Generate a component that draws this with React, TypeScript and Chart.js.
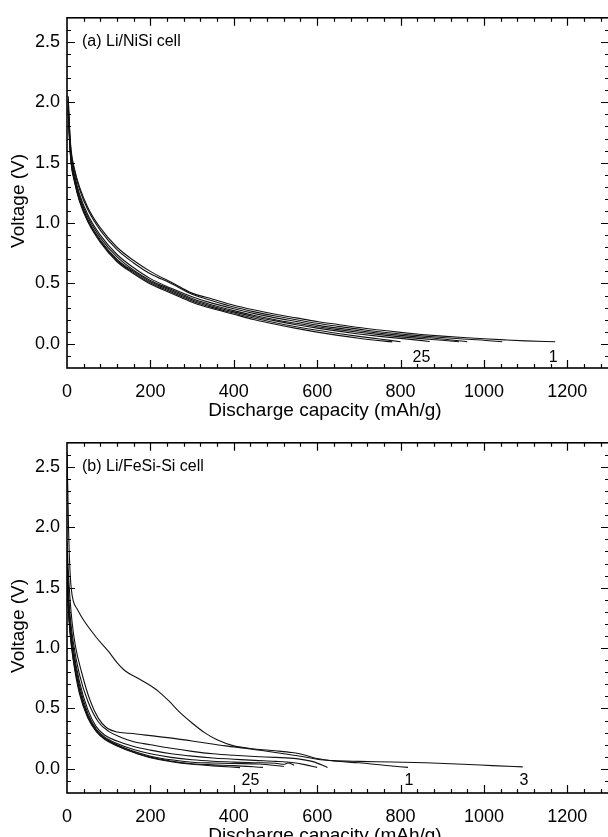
import React, { useEffect, useRef } from "react";
import { Chart, registerables } from "chart.js";

Chart.register(...registerables);

const FONT = "'Liberation Sans', Arial, Helvetica, sans-serif";

// Axis configuration
const X_TICKS = [0, 200, 400, 600, 800, 1000, 1200];
const Y_TICKS = [0.0, 0.5, 1.0, 1.5, 2.0, 2.5];
const X_MIN = 0;
const X_MAX = 1300;
const Y_MIN = -0.2;
const Y_MAX = 2.7;
const X_MINOR = 40;
const Y_MINOR = 0.1;
const X_TITLE = "Discharge capacity (mAh/g)";
const Y_TITLE = "Voltage (V)";

// Panel (a): Li/NiSi cell, [capacity mAh/g, voltage V]
const A_LABEL = "(a) Li/NiSi cell";
const NISI_C1 = [[3,2.05],[6,1.8],[10,1.6],[18,1.45],[30,1.3],[50,1.13],[80,0.96],[120,0.8],[160,0.69],[200,0.6],[250,0.51],[300,0.42],[350,0.37],[400,0.32],[450,0.28],[500,0.245],[550,0.215],[600,0.185],[650,0.16],[700,0.135],[750,0.115],[800,0.095],[850,0.078],[900,0.064],[950,0.052],[1000,0.042],[1050,0.033],[1100,0.025],[1171,0.017]];
const NISI_C2 = [[3,2.02],[6,1.78],[10,1.58],[18,1.43],[30,1.28],[50,1.11],[80,0.94],[120,0.78],[160,0.67],[200,0.58],[250,0.5],[300,0.41],[350,0.355],[400,0.305],[450,0.265],[500,0.23],[550,0.2],[600,0.17],[650,0.145],[700,0.122],[750,0.1],[800,0.082],[850,0.066],[900,0.052],[950,0.04],[1000,0.03],[1044,0.018]];
const NISI_C5 = [[3,1.98],[6,1.74],[10,1.55],[18,1.4],[30,1.24],[50,1.07],[80,0.9],[120,0.74],[160,0.63],[200,0.54],[250,0.46],[300,0.39],[350,0.335],[400,0.29],[450,0.25],[500,0.215],[550,0.185],[600,0.155],[650,0.13],[700,0.108],[750,0.088],[800,0.07],[850,0.055],[900,0.04],[960,0.018]];
const NISI_C10 = [[3,1.97],[6,1.72],[10,1.53],[18,1.38],[30,1.22],[50,1.05],[80,0.88],[120,0.72],[160,0.61],[200,0.525],[250,0.45],[300,0.375],[350,0.32],[400,0.275],[450,0.235],[500,0.2],[550,0.17],[600,0.142],[650,0.118],[700,0.096],[750,0.076],[800,0.058],[850,0.043],[900,0.03],[940,0.018]];
const NISI_C15 = [[3,1.95],[6,1.7],[10,1.51],[18,1.36],[30,1.2],[50,1.03],[80,0.86],[120,0.7],[160,0.6],[200,0.515],[250,0.44],[300,0.365],[350,0.31],[400,0.265],[450,0.225],[500,0.19],[550,0.158],[600,0.13],[650,0.105],[700,0.082],[750,0.062],[800,0.045],[870,0.02]];
const NISI_C20 = [[3,1.94],[6,1.69],[10,1.5],[18,1.35],[30,1.19],[50,1.02],[80,0.85],[120,0.69],[160,0.59],[200,0.505],[250,0.43],[300,0.355],[350,0.3],[400,0.255],[450,0.212],[500,0.175],[550,0.142],[600,0.112],[650,0.086],[700,0.062],[750,0.04],[800,0.018]];
const NISI_C25 = [[3,1.93],[6,1.68],[10,1.49],[18,1.34],[30,1.18],[50,1.01],[80,0.84],[120,0.68],[160,0.58],[200,0.495],[250,0.42],[300,0.345],[350,0.29],[400,0.245],[450,0.2],[500,0.162],[550,0.128],[600,0.097],[650,0.07],[700,0.046],[740,0.03],[780,0.016]];
const A_CYCLE_TEXT = ["25", "1"];
const A_CYCLE_X = [850, 1166];
const A_CYCLE_Y = [-0.115, -0.115];

// Panel (b): Li/FeSi-Si cell
const B_LABEL = "(b) Li/FeSi-Si cell";
const FESI_C1 = [[0,2.62],[2,2.3],[4,1.95],[7,1.65],[10,1.5],[15,1.39],[25,1.32],[40,1.23],[70,1.09],[100,0.97],[120,0.88],[140,0.81],[170,0.75],[195,0.7],[220,0.64],[245,0.56],[270,0.47],[300,0.38],[330,0.3],[360,0.24],[400,0.19],[450,0.165],[500,0.15],[540,0.135],[570,0.115],[600,0.085],[640,0.065],[700,0.05],[760,0.03],[818,0.012]];
const FESI_C3 = [[0,1.88],[3,1.65],[7,1.42],[12,1.22],[20,1.02],[35,0.8],[55,0.57],[75,0.42],[95,0.34],[120,0.305],[150,0.295],[200,0.275],[260,0.25],[320,0.22],[380,0.19],[440,0.165],[500,0.135],[560,0.105],[600,0.08],[640,0.068],[700,0.062],[780,0.057],[860,0.05],[950,0.038],[1020,0.027],[1093,0.016]];
const FESI_C2 = [[0,1.8],[3,1.5],[8,1.25],[15,1.05],[30,0.78],[50,0.56],[75,0.39],[100,0.31],[130,0.26],[160,0.225],[200,0.2],[250,0.17],[300,0.145],[350,0.125],[400,0.112],[450,0.102],[500,0.095],[550,0.085],[590,0.06],[625,0.012]];
const FESI_C5 = [[0,1.78],[3,1.45],[8,1.2],[15,1.0],[30,0.72],[50,0.49],[70,0.35],[90,0.28],[120,0.23],[160,0.185],[200,0.155],[250,0.125],[300,0.105],[350,0.09],[400,0.08],[450,0.07],[500,0.062],[540,0.052],[570,0.035],[600,0.012]];
const FESI_C10 = [[0,1.75],[3,1.4],[8,1.16],[15,0.96],[30,0.69],[50,0.46],[70,0.33],[90,0.265],[120,0.21],[160,0.16],[200,0.125],[250,0.095],[300,0.075],[350,0.063],[400,0.056],[450,0.051],[500,0.046],[520,0.038],[530,0.048],[545,0.03]];
const FESI_C15 = [[0,1.74],[3,1.38],[8,1.13],[15,0.93],[30,0.66],[50,0.44],[70,0.32],[90,0.255],[120,0.2],[160,0.145],[200,0.105],[250,0.075],[300,0.055],[350,0.048],[400,0.044],[460,0.04],[520,0.02]];
const FESI_C20 = [[0,1.73],[3,1.36],[8,1.11],[15,0.91],[30,0.64],[50,0.43],[70,0.315],[90,0.25],[120,0.195],[160,0.14],[200,0.097],[250,0.065],[300,0.042],[350,0.033],[400,0.027],[470,0.012]];
const FESI_C25 = [[0,1.72],[3,1.35],[8,1.1],[15,0.9],[30,0.62],[50,0.42],[70,0.31],[90,0.245],[120,0.19],[160,0.135],[200,0.092],[250,0.06],[300,0.038],[350,0.025],[415,0.01]];
const B_CYCLE_TEXT = ["25", "1", "3"];
const B_CYCLE_X = [440, 820, 1096];
const B_CYCLE_Y = [-0.1, -0.1, -0.1];

const framePlugin = {
  id: "frameTicks",
  afterDatasetsDraw(chart: any, _args: any, opts: any) {
    const { ctx, chartArea } = chart;
    const { left, right, top, bottom } = chartArea;
    const xs = chart.scales.x;
    const ys = chart.scales.y;
    ctx.save();
    ctx.strokeStyle = "#000";
    ctx.lineWidth = 1.6;
    ctx.strokeRect(left, top, right - left, bottom - top);
    ctx.lineWidth = 1.2;
    ctx.beginPath();
    const nx = Math.round((X_MAX - X_MIN) / X_MINOR);
    for (let i = 1; i < nx; i++) {
      const v = X_MIN + i * X_MINOR;
      const px = Math.round(xs.getPixelForValue(v)) + 0.5;
      const len = v % 200 === 0 ? 8 : 4;
      ctx.moveTo(px, bottom);
      ctx.lineTo(px, bottom - len);
      ctx.moveTo(px, top);
      ctx.lineTo(px, top + len);
    }
    const ny = Math.round((Y_MAX - Y_MIN) / Y_MINOR);
    for (let i = 1; i < ny; i++) {
      const v = Math.round((Y_MIN + i * Y_MINOR) * 10) / 10;
      const py = Math.round(ys.getPixelForValue(v)) + 0.5;
      const major = Math.abs(Math.round(v * 2) - v * 2) < 1e-6;
      const len = major ? 8 : 4;
      ctx.moveTo(left, py);
      ctx.lineTo(left + len, py);
      ctx.moveTo(right, py);
      ctx.lineTo(right - len, py);
    }
    ctx.stroke();

    ctx.fillStyle = "#000";
    ctx.font = `16px ${FONT}`;
    ctx.textAlign = "left";
    ctx.textBaseline = "middle";
    ctx.fillText(opts.label, left + 15, ys.getPixelForValue(2.5));
    ctx.textAlign = "center";
    opts.cycleText.forEach((t: string, i: number) => {
      ctx.fillText(t, xs.getPixelForValue(opts.cycleX[i]), ys.getPixelForValue(opts.cycleY[i]));
    });

    // axis titles
    ctx.font = `19px ${FONT}`;
    ctx.textAlign = "center";
    ctx.textBaseline = "middle";
    ctx.fillText(X_TITLE, left + 258, bottom + 43);
    ctx.save();
    ctx.translate(19, (top + bottom) / 2 + 8);
    ctx.rotate(-Math.PI / 2);
    ctx.fillText(Y_TITLE, 0, 0);
    ctx.restore();
    ctx.restore();
  },
};

function toPoints(arr: number[][]) {
  return arr.map(([x, y]) => ({ x, y }));
}

function Panel(props: {
  curves: number[][][];
  label: string;
  cycleText: string[];
  cycleX: number[];
  cycleY: number[];
  top: number;
}) {
  const ref = useRef<HTMLCanvasElement>(null);
  useEffect(() => {
    const chart = new Chart(ref.current as HTMLCanvasElement, {
      type: "scatter",
      data: {
        datasets: props.curves.map((c) => ({
          data: toPoints(c),
          showLine: true,
          borderColor: "#111",
          borderWidth: 1.1,
          pointRadius: 0,
          cubicInterpolationMode: "monotone",
          fill: false,
        })),
      },
      options: {
        responsive: false,
        animation: false,
        events: [],
        layout: { padding: { top: 14, right: 3, left: 0, bottom: 0 } },
        plugins: {
          legend: { display: false },
          tooltip: { enabled: false },
          frameTicks: {
            label: props.label,
            cycleText: props.cycleText,
            cycleX: props.cycleX,
            cycleY: props.cycleY,
          },
        } as any,
        scales: {
          x: {
            type: "linear",
            min: X_MIN,
            max: X_MAX,
            afterBuildTicks: (s: any) => {
              s.ticks = X_TICKS.map((v) => ({ value: v }));
            },
            afterFit: (s: any) => {
              s.height = 57;
            },
            grid: { display: false, drawTicks: false },
            border: { display: false },
            ticks: {
              color: "#000",
              font: { size: 18, family: FONT },
              padding: 13,
              maxRotation: 0,
              autoSkip: false,
              callback: (v: any) => String(v),
            },
            title: { display: false },
          },
          y: {
            type: "linear",
            min: Y_MIN,
            max: Y_MAX,
            afterBuildTicks: (s: any) => {
              s.ticks = Y_TICKS.map((v) => ({ value: v }));
            },
            afterFit: (s: any) => {
              s.width = 67;
            },
            grid: { display: false, drawTicks: false },
            border: { display: false },
            ticks: {
              color: "#000",
              font: { size: 18, family: FONT },
              padding: 7,
              callback: (v: any) => Number(v).toFixed(1),
            },
            title: { display: false },
          },
        },
      } as any,
      plugins: [framePlugin],
    });
    return () => chart.destroy();
  }, []);
  return (
    <canvas
      ref={ref}
      width={612}
      height={425}
      style={{ position: "absolute", left: 0, top: props.top, display: "block" }}
    />
  );
}

export default function App() {
  return (
    <div
      style={{
        position: "fixed",
        left: 0,
        top: 0,
        width: 612,
        height: 850,
        background: "#fff",
        overflow: "hidden",
      }}
    >
      <Panel
        curves={[NISI_C1, NISI_C2, NISI_C5, NISI_C10, NISI_C15, NISI_C20, NISI_C25]}
        label={A_LABEL}
        cycleText={A_CYCLE_TEXT}
        cycleX={A_CYCLE_X}
        cycleY={A_CYCLE_Y}
        top={0}
      />
      <Panel
        curves={[FESI_C1, FESI_C3, FESI_C2, FESI_C5, FESI_C10, FESI_C15, FESI_C20, FESI_C25]}
        label={B_LABEL}
        cycleText={B_CYCLE_TEXT}
        cycleX={B_CYCLE_X}
        cycleY={B_CYCLE_Y}
        top={425}
      />
    </div>
  );
}
